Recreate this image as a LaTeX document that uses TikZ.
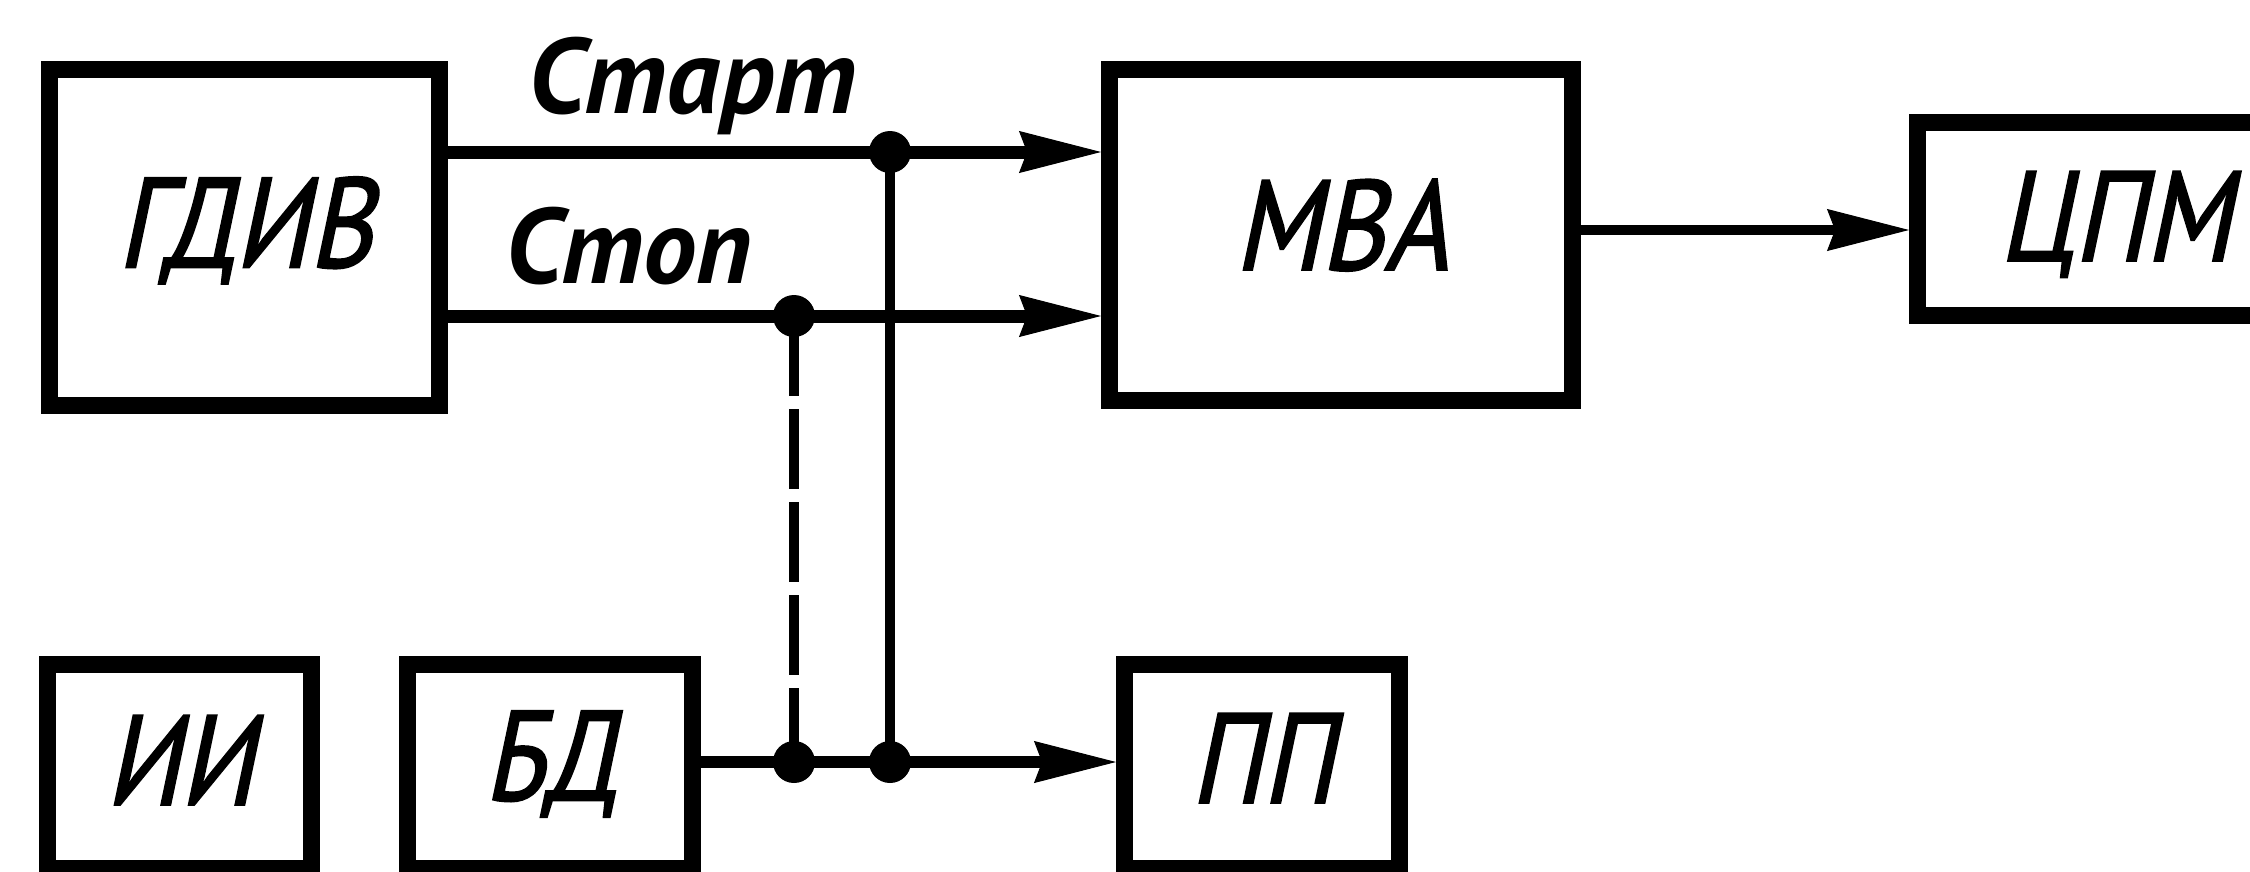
\documentclass[tikz,border=0pt]{standalone}
\usepackage{fontspec}
\setmainfont{PT Sans}
\newfontfamily\boxfont{PT Sans}[FakeSlant=0.21, FakeStretch=0.85, FakeBold=1.5]
\newfontfamily\labfont{PT Sans}
\usetikzlibrary{arrows.meta}
\begin{document}
\begin{tikzpicture}[x=1pt,y=-1pt,
  box/.style={draw, line width=17pt, rectangle, inner sep=0pt, text height=90pt,
    font=\boxfont\fontsize{128}{128}\selectfont},
  wire/.style={line width=13pt},
  vline/.style={line width=10pt},
  arr/.style={wire, -{Stealth[length=82pt,width=42pt,inset=8pt,line width=1pt]}},
  dotc/.style={circle, fill, draw=none, inner sep=0pt, minimum size=42pt},
  lab/.style={inner sep=0pt, font=\labfont\bfseries\itshape\fontsize{107}{107}\selectfont}]
\useasboundingbox (0,0) rectangle (2250,871);
\fill[white] (0,0) rectangle (2250,871);
% boxes
\node[box, text depth=30pt, minimum width=390pt, minimum height=336pt] (gdiv) at (244.5,237.5) {ГДИВ};
\node[box, text depth=20pt, minimum width=463pt, minimum height=331pt] (mva) at (1341,235) {МВА};
\node[box, text height=84pt, text depth=0pt, minimum width=395pt, minimum height=193pt] (cpm) at (2115,219) {ЦПМ};
\node[box, text depth=13pt, minimum width=264pt, minimum height=204pt] (ii) at (179.5,766.5) {ИИ};
\node[box, text depth=22pt, minimum width=285pt, minimum height=204pt] (bd) at (550,766.5) {БД};
\node[box, text depth=17pt, minimum width=275pt, minimum height=204pt] (pp) at (1262,766.5) {ПП};
% labels
\node[lab, anchor=base west] (lstart) at (528,113) {Старт};
\node[lab, anchor=base west] (lstop) at (505,283) {Стоп};
% junctions
\node[dotc] (j1) at (890,152) {};
\node[dotc] (j2) at (794,316) {};
\node[dotc] (j3) at (794,762) {};
\node[dotc] (j4) at (890,762) {};
% connectors
\draw[arr] (gdiv.east |- j1) -- (mva.west |- j1);
\draw[arr] (gdiv.east |- j2) -- (mva.west |- j2);
\draw[vline] (j1.center) -- (j4.center);
\draw[vline, dash pattern=on 80pt off 13pt] (j2.center) -- (j3.center);
\draw[arr, line width=12pt] (bd.east |- j3) -- (pp.west |- j3);
\draw[arr, line width=10pt] ([yshift=5pt]mva.east) -- ([yshift=5pt]mva.east -| cpm.west);
\end{tikzpicture}
\end{document}
